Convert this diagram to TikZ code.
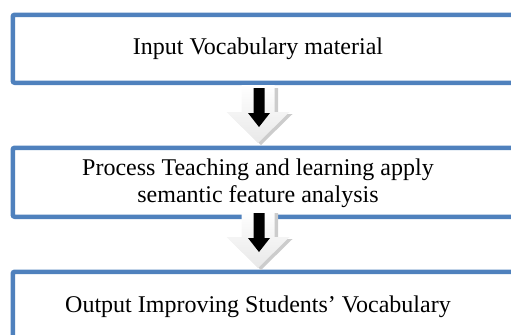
\documentclass[tikz,border=0pt]{standalone}
\usepackage{fontspec}
\setmainfont{Liberation Serif}
\definecolor{boxblue}{RGB}{79,129,189}
\tikzset{
  flowbox/.style={draw=boxblue, line width=4.5bp, rounded corners=2bp, fill=white, inner sep=0pt, anchor=north west},
  flowtext/.style={font=\fontsize{24bp}{27bp}\selectfont, align=center, inner sep=0pt, text=black},
  pics/blockarrow/.style={code={
    \fill[gray!40] (3,2) -- (34.5,-29) -- (20,-29) -- (20,-55) -- (13,-55) -- (13,-29) -- (-28.5,-29) -- cycle;
    \shade[top color=white, bottom color=gray!18] (0,0) -- (31.5,-31) -- (16.5,-31) -- (16.5,-58) -- (-16.5,-58) -- (-16.5,-31) -- (-31.5,-31) -- cycle;
    \fill[black] (1,-16) -- (12,-30) -- (6.5,-30) -- (6.5,-55) -- (-4.5,-55) -- (-4.5,-30) -- (-10,-30) -- cycle;
  }}
}
\begin{document}
\begin{tikzpicture}[x=1bp, y=-1bp]
\useasboundingbox (0,0) rectangle (511,334);
\clip (0,0) rectangle (511,334);
\node[flowbox, minimum width=520bp, minimum height=68bp] (inbox) at (10.5,12.5) {};
\node[flowbox, minimum width=520bp, minimum height=69bp] (procbox) at (10.5,145.5) {};
\node[flowbox, minimum width=520bp, minimum height=100bp] (outbox) at (10.5,269.5) {};
\node[flowtext, anchor=base] (intext) at (258,54) {Input Vocabulary material};
\node[flowtext, anchor=base] (proctext) at (258,202) {Process Teaching and learning apply\\semantic feature analysis};
\node[flowtext, anchor=base] (outtext) at (258,312) {Output Improving Students’ Vocabulary};
\coordinate (tipA) at (258, 143);
\coordinate (tipB) at (258, 268);
\pic at (tipA) {blockarrow};
\pic at (tipB) {blockarrow};
\end{tikzpicture}
\end{document}
